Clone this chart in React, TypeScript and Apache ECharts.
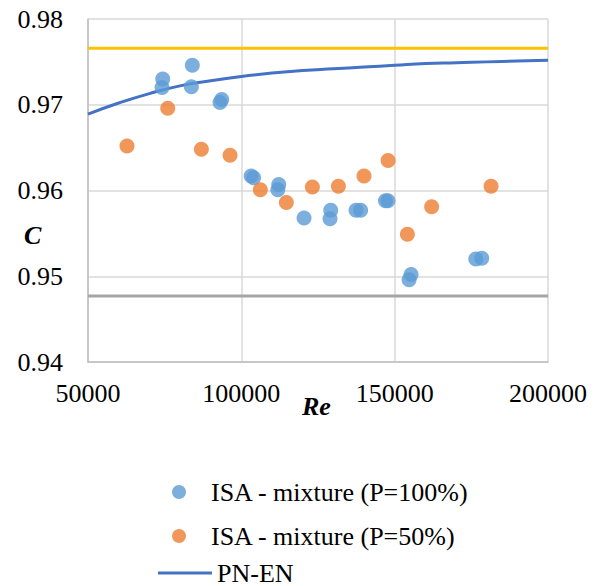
import React, { useEffect, useRef } from "react";
import * as echarts from "echarts";

const reP100: number[] = [74360, 74140, 84020, 83700, 93600, 93050, 103200, 104000, 112200, 111900, 120450, 129150, 128920, 137400, 138900, 147000, 147800, 155350, 154700, 176450, 178400];
const cP100: number[] = [0.9730, 0.9720, 0.9746, 0.9721, 0.9706, 0.97025, 0.9617, 0.9615, 0.9607, 0.9601, 0.9568, 0.9577, 0.9567, 0.9577, 0.9577, 0.9588, 0.9588, 0.9502, 0.9496, 0.9520, 0.9521];

const reP50: number[] = [62720, 76000, 86970, 96320, 106200, 114680, 123170, 131650, 140000, 147850, 154150, 162060, 181430];
const cP50: number[] = [0.9652, 0.9696, 0.9648, 0.9641, 0.9601, 0.9586, 0.9604, 0.9605, 0.9617, 0.9635, 0.9549, 0.9581, 0.9605];

const rePN: number[] = [50000, 60000, 70000, 80000, 90000, 100000, 110000, 120000, 130000, 140000, 150000, 160000, 170000, 180000, 190000, 200000];
const cPN: number[] = [0.9689, 0.9702, 0.9713, 0.9722, 0.9728, 0.9733, 0.9737, 0.9740, 0.9742, 0.9744, 0.9746, 0.9748, 0.9749, 0.9750, 0.9751, 0.9752];

const upperLimit = 0.9766;
const lowerLimit = 0.9477;
const xRange: number[] = [50000, 200000];

const nameP100 = "ISA - mixture (P=100%)";
const nameP50 = "ISA - mixture (P=50%)";
const namePN = "PN-EN";

const FONT = "'Times New Roman', 'Liberation Serif', serif";

export default function App() {
  const ref = useRef<HTMLDivElement>(null);
  useEffect(() => {
    if (!ref.current) return;
    const chart = echarts.init(ref.current, undefined, { renderer: "svg" });
    const zip = (a: number[], b: number[]) => a.map((v, i) => [v, b[i]]);
    const legendText = { fontFamily: FONT, fontSize: 26, color: "#000" };
    chart.setOption({
      animation: false,
      grid: { left: 88, right: 51, top: 19, bottom: 224, outerBoundsMode: "none", containLabel: false },
      xAxis: {
        type: "value",
        min: 50000,
        max: 200000,
        interval: 50000,
        axisLine: { show: true, lineStyle: { color: "#bfbfbf", width: 1.5 } },
        axisTick: { show: false },
        splitLine: { show: true, lineStyle: { color: "#d9d9d9", width: 1.5 } },
        axisLabel: {
          fontFamily: FONT,
          fontSize: 26,
          color: "#000",
          margin: 18,
          formatter: (v: number) => String(v),
        },
      },
      yAxis: {
        type: "value",
        min: 0.94,
        max: 0.98,
        interval: 0.01,
        axisLine: { show: true, lineStyle: { color: "#bfbfbf", width: 1.5 } },
        axisTick: { show: false },
        splitLine: { show: true, lineStyle: { color: "#d9d9d9", width: 1.5 } },
        axisLabel: {
          fontFamily: FONT,
          fontSize: 26,
          color: "#000",
          margin: 25,
          formatter: (v: number) => v.toFixed(2),
        },
      },
      legend: [
        { data: [nameP100], left: 172, top: 479, padding: 0, itemWidth: 54, itemHeight: 14, itemGap: 0, textStyle: legendText },
        { data: [nameP50], left: 172, top: 523, padding: 0, itemWidth: 54, itemHeight: 14, itemGap: 0, textStyle: legendText },
        {
          data: [{ name: namePN, icon: "rect" }],
          left: 158,
          top: 560,
          padding: 0,
          itemWidth: 54,
          itemHeight: 3,
          itemGap: 0,
          textStyle: legendText,
        },
      ],
      graphic: [
        {
          type: "text",
          left: 24,
          top: 222,
          style: { text: "C", fontFamily: FONT, fontStyle: "italic", fontWeight: "bold", fontSize: 26, fill: "#000" },
        },
        {
          type: "text",
          left: 302,
          top: 393,
          style: { text: "Re", fontFamily: FONT, fontStyle: "italic", fontWeight: "bold", fontSize: 26, fill: "#000" },
        },
      ],
      series: [
        {
          type: "line",
          data: [[xRange[0], upperLimit], [xRange[1], upperLimit]],
          symbol: "none",
          lineStyle: { color: "#FFC000", width: 3 },
          silent: true,
          z: 1,
        },
        {
          type: "line",
          data: [[xRange[0], lowerLimit], [xRange[1], lowerLimit]],
          symbol: "none",
          lineStyle: { color: "#A5A5A5", width: 3 },
          silent: true,
          z: 1,
        },
        {
          name: namePN,
          type: "line",
          data: zip(rePN, cPN),
          symbol: "none",
          smooth: true,
          lineStyle: { color: "#4472C4", width: 3 },
          itemStyle: { color: "#4472C4" },
          z: 3,
        },
        {
          name: nameP100,
          type: "scatter",
          data: zip(reP100, cP100),
          symbol: "circle",
          symbolSize: 15,
          itemStyle: { color: "#5B9BD5" },
          z: 4,
        },
        {
          name: nameP50,
          type: "scatter",
          data: zip(reP50, cP50),
          symbol: "circle",
          symbolSize: 15,
          itemStyle: { color: "#ED7D31" },
          z: 4,
        },
      ],
    });
    return () => chart.dispose();
  }, []);
  return (
    <div
      ref={ref}
      style={{ position: "fixed", left: 0, top: 0, width: 599, height: 586, background: "#fff" }}
    />
  );
}
